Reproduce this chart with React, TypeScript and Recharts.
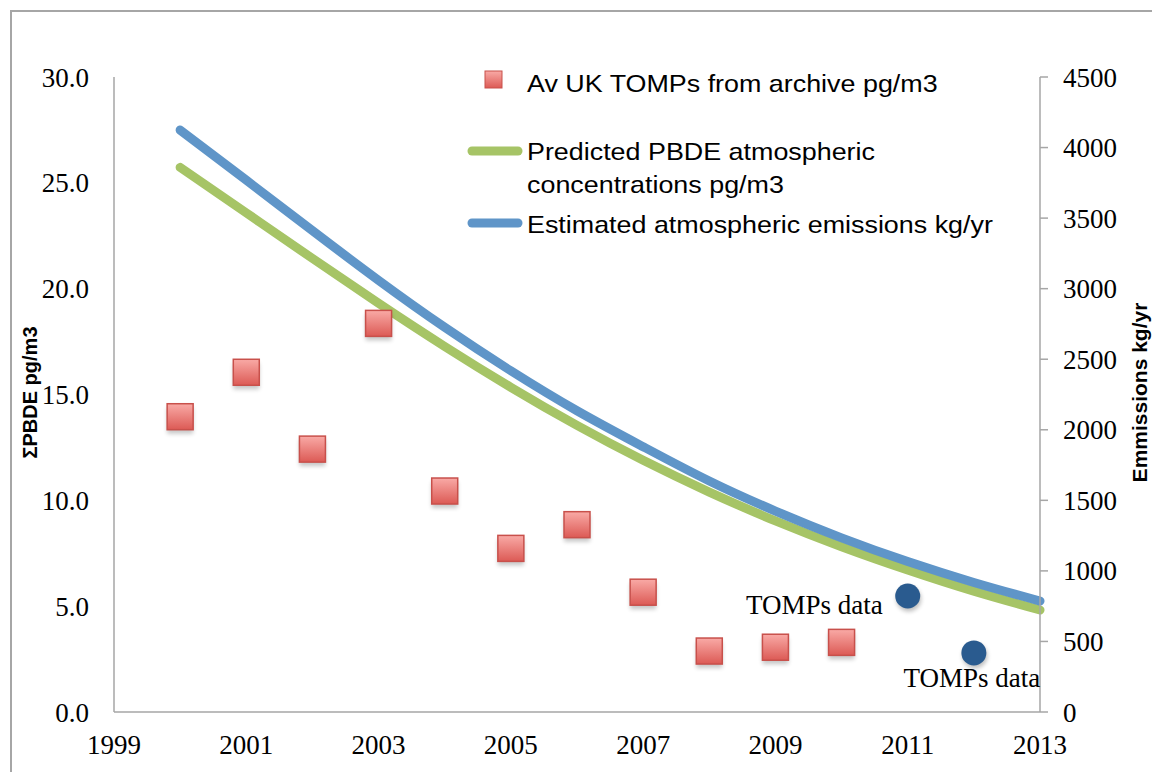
import React from 'react';
import { ComposedChart, Line, Scatter, XAxis, YAxis, Legend } from 'recharts';

// ---- data ----
const years = [2000, 2001, 2002, 2003, 2004, 2005, 2006, 2007, 2008, 2009, 2010, 2011, 2012, 2013];
const predictedConc = [25.73, 23.58, 21.43, 19.31, 17.27, 15.34, 13.54, 11.89, 10.39, 9.03, 7.81, 6.71, 5.71, 4.82];
const estEmissions = [4124, 3769, 3411, 3059, 2726, 2418, 2135, 1880, 1637, 1424, 1234, 1066, 918, 786];

const archiveYears = [2000, 2001, 2002, 2003, 2004, 2005, 2006, 2007, 2008, 2009, 2010];
const archiveValues = [13.95, 16.05, 12.42, 18.36, 10.44, 7.73, 8.85, 5.66, 2.88, 3.06, 3.29];

const tompsYears = [2011, 2012];
const tompsValues = [5.48, 2.79];
const tompsLabels = ['TOMPs data', 'TOMPs data'];

const xTicks = [1999, 2001, 2003, 2005, 2007, 2009, 2011, 2013];
const leftTicks = [0, 5, 10, 15, 20, 25, 30];
const rightTicks = [0, 500, 1000, 1500, 2000, 2500, 3000, 3500, 4000, 4500];

const legendNames = [
  'Av UK TOMPs from archive pg/m3',
  ['Predicted PBDE atmospheric', 'concentrations pg/m3'],
  'Estimated atmospheric emissions kg/yr',
];

const leftTitle = 'ΣPBDE pg/m3';
const rightTitle = 'Emmissions kg/yr';

// ---- derived tables ----
const lineData = years.map((y, i) => ({ year: y, conc: predictedConc[i], emis: estEmissions[i] }));
const archiveData = archiveYears.map((y, i) => ({ year: y, val: archiveValues[i] }));
const tompsData = tompsYears.map((y, i) => ({ year: y, val: tompsValues[i], label: tompsLabels[i] }));

const GREEN = '#a6c466';
const BLUE = '#5f95c8';
const DARKBLUE = '#2a5b8f';
const AXIS = '#a6a6a6';
const SERIF = '"Liberation Serif", "Times New Roman", serif';
const SANS = '"Liberation Sans", Arial, sans-serif';

const SharedDefs = () => (
  <defs>
    <linearGradient id="sqGrad" x1="0" y1="0" x2="0" y2="1">
      <stop offset="0%" stopColor="#f9aaa6" />
      <stop offset="100%" stopColor="#dc5a55" />
    </linearGradient>
    <filter id="softShadow" x="-50%" y="-50%" width="200%" height="200%">
      <feGaussianBlur stdDeviation="2" />
    </filter>
  </defs>
);

const SquareShape = (props: any) => {
  const { cx, cy } = props;
  if (cx == null || cy == null) return null;
  const s = 26;
  return (
    <g>
      <SharedDefs />
      <rect x={cx - s / 2} y={cy - s / 2 + 4} width={s} height={s} fill="#000" opacity={0.22} filter="url(#softShadow)" />
      <rect x={cx - s / 2} y={cy - s / 2} width={s} height={s} fill="url(#sqGrad)" stroke="#c8504b" strokeWidth={1.5} />
    </g>
  );
};

const labelPlacement = ['left', 'below'];

const CircleShape = (props: any) => {
  const { cx, cy, payload } = props;
  if (cx == null || cy == null) return null;
  const idx = tompsYears.indexOf(payload?.year);
  const place = labelPlacement[idx] || 'left';
  const label = payload?.label;
  return (
    <g>
      <SharedDefs />
      <circle cx={cx + 1} cy={cy + 3} r={12.5} fill="#000" opacity={0.25} filter="url(#softShadow)" />
      <circle cx={cx} cy={cy} r={12.5} fill={DARKBLUE} />
      {place === 'left' ? (
        <text x={cx - 25} y={cy + 18} textAnchor="end" fontFamily={SERIF} fontSize={27} fill="#000">{label}</text>
      ) : (
        <text x={cx - 2} y={cy + 34} textAnchor="middle" fontFamily={SERIF} fontSize={27} fill="#000">{label}</text>
      )}
    </g>
  );
};

const LeftTitle = (props: any) => {
  const vb = props.viewBox || { x: 0, y: 77, width: 114, height: 635 };
  const x0 = vb.x + 37;
  const y0 = vb.y + vb.height / 2 - 2;
  return (
    <text x={x0} y={y0} transform={`rotate(-90 ${x0} ${y0})`} textAnchor="middle" fontFamily={SANS} fontWeight="bold" fontSize={20} fill="#000">
      {leftTitle}
    </text>
  );
};

const RightTitle = (props: any) => {
  const vb = props.viewBox || { x: 1040, y: 77, width: 112, height: 635 };
  const x0 = vb.x + 107;
  const y0 = vb.y + vb.height / 2 - 2;
  return (
    <text x={x0} y={y0} transform={`rotate(-90 ${x0} ${y0})`} textAnchor="middle" fontFamily={SANS} fontWeight="bold" fontSize={21} fill="#000">
      {rightTitle}
    </text>
  );
};

const LegendContent = () => (
  <svg width={640} height={200} style={{ overflow: 'visible', display: 'block' }}>
    <SharedDefs />
    <rect x={45} y={21} width={17} height={17} fill="url(#sqGrad)" stroke="#c8504b" strokeWidth={1} />
    <line x1={32} x2={78} y1={101} y2={101} stroke={GREEN} strokeWidth={9} strokeLinecap="round" />
    <line x1={32} x2={78} y1={173} y2={173} stroke={BLUE} strokeWidth={9} strokeLinecap="round" />
    <g transform="translate(87 0) scale(1.12 1)" fontFamily={SANS} fontSize={24} fill="#000">
      <text x={0} y={42}>{legendNames[0] as string}</text>
      <text x={0} y={110}>{(legendNames[1] as string[])[0]}</text>
      <text x={0} y={143}>{(legendNames[1] as string[])[1]}</text>
      <text x={0} y={183}>{legendNames[2] as string}</text>
    </g>
  </svg>
);

export default function App() {
  return (
    <div style={{ position: 'fixed', left: 0, top: 0, width: 1152, height: 772, overflow: 'hidden', background: '#fff' }}>
      <div
        style={{
          position: 'absolute',
          left: 10,
          top: 10,
          width: 1300,
          height: 900,
          borderTop: `2px solid ${AXIS}`,
          borderLeft: `2px solid ${AXIS}`,
        }}
      />
      <div style={{ position: 'absolute', left: 0, top: 0 }}>
        <ComposedChart width={1152} height={772} data={lineData} margin={{ top: 77, right: 0, bottom: 0, left: 0 }}>
          <XAxis
            dataKey="year"
            type="number"
            domain={[1999, 2013]}
            ticks={xTicks}
            interval={0}
            tickLine={false}
            tickSize={0}
            tickMargin={23}
            height={60}
            axisLine={{ stroke: AXIS, strokeWidth: 1.5 }}
            tick={{ fill: '#000', fontSize: 27, fontFamily: SERIF }}
          />
          <YAxis
            yAxisId="left"
            orientation="left"
            type="number"
            domain={[0, 30]}
            ticks={leftTicks}
            interval={0}
            width={114}
            tickLine={false}
            tickSize={0}
            tickMargin={25}
            axisLine={{ stroke: AXIS, strokeWidth: 1.5 }}
            tickFormatter={(v: number) => v.toFixed(1)}
            tick={{ fill: '#000', fontSize: 27, fontFamily: SERIF }}
            label={(p: any) => <LeftTitle {...p} />}
          />
          <YAxis
            yAxisId="right"
            orientation="right"
            type="number"
            domain={[0, 4500]}
            ticks={rightTicks}
            interval={0}
            width={112}
            tickSize={8}
            tickMargin={15}
            tickLine={{ stroke: AXIS, strokeWidth: 1.5 }}
            axisLine={{ stroke: AXIS, strokeWidth: 1.5 }}
            tick={{ fill: '#000', fontSize: 27, fontFamily: SERIF, textAnchor: 'start' }}
            label={(p: any) => <RightTitle {...p} />}
          />
          <Legend
            layout="vertical"
            verticalAlign="middle"
            align="center"
            wrapperStyle={{ left: 440, top: 50, width: 640, height: 200 }}
            content={() => <LegendContent />}
          />
          <Scatter
            yAxisId="left"
            data={archiveData}
            dataKey="val"
            name="Av UK TOMPs from archive pg/m3"
            shape={(p: any) => <SquareShape {...p} />}
            isAnimationActive={false}
          />
          <Line
            yAxisId="left"
            dataKey="conc"
            type="natural"
            stroke={GREEN}
            strokeWidth={9}
            strokeLinecap="round"
            dot={false}
            activeDot={false}
            isAnimationActive={false}
          />
          <Line
            yAxisId="right"
            dataKey="emis"
            type="natural"
            stroke={BLUE}
            strokeWidth={9}
            strokeLinecap="round"
            dot={false}
            activeDot={false}
            isAnimationActive={false}
          />
          <Scatter
            yAxisId="left"
            data={tompsData}
            dataKey="val"
            name="TOMPs data"
            shape={(p: any) => <CircleShape {...p} />}
            isAnimationActive={false}
          />
        </ComposedChart>
      </div>
    </div>
  );
}
